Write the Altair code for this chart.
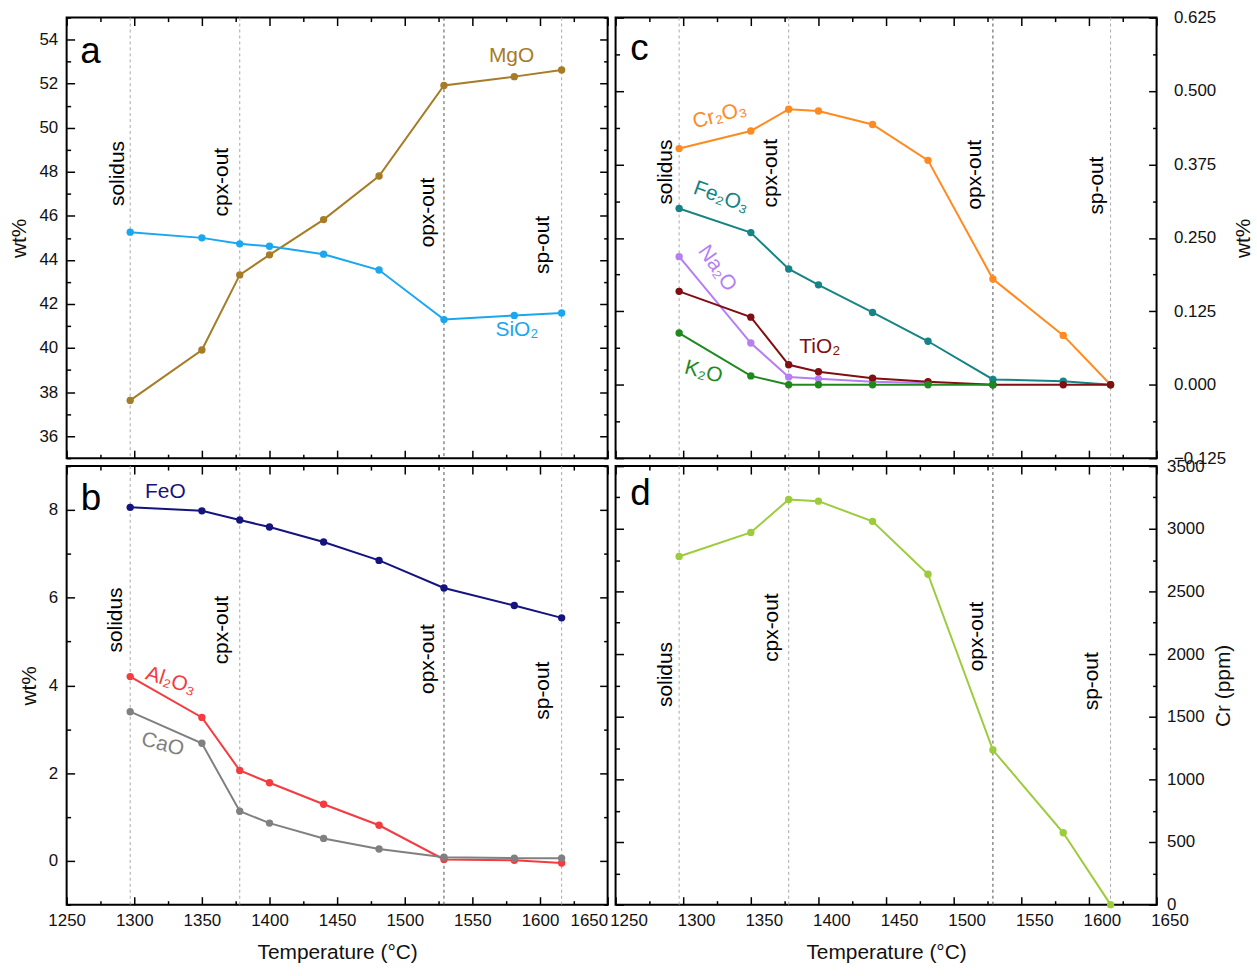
import altair as alt
import pandas as pd

FONT = "Liberation Sans"

# ---------------- data ----------------
T = [1297, 1350, 1378, 1400, 1440, 1481, 1529, 1581, 1616]
phase_T = [1297, 1378, 1529, 1616]
phase_names = ["solidus", "cpx-out", "opx-out", "sp-out"]
phase_line_colors = ["#a8a8a8", "#a8a8a8", "#505050", "#a8a8a8"]

# panel a (wt%)
MgO = [37.62, 39.91, 43.32, 44.23, 45.83, 47.81, 51.92, 52.32, 52.62]
SiO2 = [45.26, 45.00, 44.73, 44.62, 44.26, 43.54, 41.29, 41.48, 41.59]
# panel b (wt%)
FeO = [8.06, 7.98, 7.77, 7.61, 7.27, 6.85, 6.22, 5.82, 5.54]
Al2O3 = [4.20, 3.27, 2.06, 1.78, 1.29, 0.81, 0.03, 0.01, -0.05]
CaO = [3.40, 2.68, 1.13, 0.86, 0.51, 0.27, 0.08, 0.06, 0.06]
# panel c (wt%)
Cr2O3 = [0.402, 0.432, 0.469, 0.466, 0.443, 0.382, 0.180, 0.084, 0.000]
Fe2O3 = [0.300, 0.259, 0.197, 0.170, 0.123, 0.074, 0.009, 0.006, 0.000]
Na2O = [0.218, 0.071, 0.013, 0.010, 0.005, 0.003]
TiO2 = [0.159, 0.115, 0.034, 0.022, 0.011, 0.005, 0.000, 0.000, 0.000]
K2O = [0.088, 0.015, 0.000, 0.000, 0.000, 0.000, 0.000]
# panel d (ppm)
Cr_ppm = [2779, 2971, 3233, 3220, 3059, 2637, 1234, 574, 0]

colors = {
    "MgO": "#A67C26", "SiO₂": "#1AA7F0",
    "FeO": "#14137F", "Al₂O₃": "#F53A40", "CaO": "#808080",
    "Cr₂O₃": "#FF8A1F", "Fe₂O₃": "#168484", "Na₂O": "#B57EF5",
    "TiO₂": "#800E12", "K₂O": "#1E8A1E", "Cr": "#9CCB3C",
}

# label positions (data units): phase labels per panel
phase_lab_a = {"T": [1288, 1365, 1517, 1602], "v": [47.92, 47.53, 46.15, 44.68]}
phase_lab_b = {"T": [1286.5, 1364.7, 1517, 1602], "v": [5.49, 5.26, 4.60, 3.88]}
phase_lab_c = {"T": [1287.5, 1364.7, 1516, 1606], "v": [0.362, 0.360, 0.3575, 0.339]}
phase_lab_d = {"T": [1287.5, 1365.4, 1517, 1602.5], "v": [1837, 2211, 2140, 1783]}

# series labels: name, T, value, angle
ser_lab_a = [("MgO", 1579, 53.24, 0), ("SiO₂", 1583, 40.8, 0)]
ser_lab_b = [("FeO", 1323, 8.41, 0), ("Al₂O₃", 1327, 4.10, 18), ("CaO", 1321, 2.65, 15)]
ser_lab_c = [("Cr₂O₃", 1327, 0.458, 345), ("Fe₂O₃", 1328, 0.319, 20),
             ("Na₂O", 1325, 0.198, 55), ("TiO₂", 1401, 0.0637, 0), ("K₂O", 1315, 0.0212, 15)]

letters = {"a": (1267.6, 52.94), "b": (1268, 8.0), "c": (1267.6, 0.553), "d": (1268.4, 3187)}

x_major = list(range(1250, 1651, 50))
x_minor = list(range(1275, 1650, 50))


def long_df(series):
    rows = []
    for name, vals in series:
        for t, v in zip(T, vals):
            rows.append({"series": name, "T": t, "v": v, "col": colors[name]})
    return pd.DataFrame(rows)


def make_panel(letter, series, ydom, y_major, y_minor, yside, ytitle, yfmt,
               xlabels, phase_lab, ser_lab, height, ylabpad, ytitlepad,
               xlab_offset=0, right_align_last=False):
    xs = alt.Scale(domain=[1250, 1650], nice=False, zero=False)
    ys = alt.Scale(domain=ydom, nice=False, zero=False)
    opp = {"left": "right", "right": "left"}
    dummy = pd.DataFrame({"ax": [1250, 1650], "ay": ydom})

    def axis_layer(xa, ya):
        return alt.Chart(dummy).mark_point(opacity=0).encode(
            x=alt.X("ax:Q", scale=xs, axis=xa),
            y=alt.Y("ay:Q", scale=ys, axis=ya),
        )

    common = dict(domain=False, grid=False, tickColor="black", tickWidth=1.5)
    if xlabels:
        extra = {}
        if right_align_last:
            extra["labelAlign"] = alt.condition("datum.value == 1650", alt.value("right"), alt.value("center"))
        if xlab_offset:
            extra["labelOffset"] = xlab_offset
        xa1 = alt.Axis(orient="bottom", values=x_major, tickSize=8, offset=-8, labels=True,
                       labelPadding=8, labelFlush=False, labelOverlap=False, format="d",
                       title="Temperature (°C)", titlePadding=13, **extra, **common)
    else:
        xa1 = alt.Axis(orient="bottom", values=x_major, tickSize=8, offset=-8, labels=False,
                       title=None, **common)
    ya1 = alt.Axis(orient=yside, values=y_major, tickSize=8, offset=-8, labels=True,
                   labelPadding=ylabpad, labelFlush=False, labelOverlap=False,
                   format=yfmt, title=ytitle, titlePadding=ytitlepad,
                   titleAngle=270, titleBaseline="bottom" if yside == "left" else "top", **common)
    l1 = axis_layer(xa1, ya1)
    l2 = axis_layer(
        alt.Axis(orient="top", values=x_major, tickSize=8, offset=-8, labels=False, title=None, **common),
        alt.Axis(orient=opp[yside], values=y_major, tickSize=8, offset=-8, labels=False, title=None, **common),
    )
    l3 = axis_layer(
        alt.Axis(orient="bottom", values=x_minor, tickSize=4, offset=-4, labels=False, title=None, **common),
        alt.Axis(orient=yside, values=y_minor, tickSize=4, offset=-4, labels=False, title=None, **common),
    )
    l4 = axis_layer(
        alt.Axis(orient="top", values=x_minor, tickSize=4, offset=-4, labels=False, title=None, **common),
        alt.Axis(orient=opp[yside], values=y_minor, tickSize=4, offset=-4, labels=False, title=None, **common),
    )

    phase_df = pd.DataFrame({"T": phase_T, "lc": phase_line_colors})
    rules = alt.Chart(phase_df).mark_rule(strokeDash=[3, 3], strokeWidth=1).encode(
        x=alt.X("T:Q", scale=xs, axis=None),
        color=alt.Color("lc:N", scale=None, legend=None),
    )

    plab_df = pd.DataFrame({"T": phase_lab["T"], "v": phase_lab["v"], "name": phase_names})
    plabs = alt.Chart(plab_df).mark_text(angle=270, font=FONT, fontSize=21, color="black",
                                         align="center", baseline="middle").encode(
        x=alt.X("T:Q", scale=xs, axis=None),
        y=alt.Y("v:Q", scale=ys, axis=None),
        text="name:N",
    )

    df = long_df(series)
    lines = alt.Chart(df).mark_line(strokeWidth=2).encode(
        x=alt.X("T:Q", scale=xs, axis=None),
        y=alt.Y("v:Q", scale=ys, axis=None),
        color=alt.Color("col:N", scale=None, legend=None),
        detail="series:N",
    )
    pts = alt.Chart(df).mark_circle(size=55, opacity=1).encode(
        x=alt.X("T:Q", scale=xs, axis=None),
        y=alt.Y("v:Q", scale=ys, axis=None),
        color=alt.Color("col:N", scale=None, legend=None),
    )

    layers = [l1, l2, l3, l4, rules, plabs, lines, pts]
    for name, t, v, ang in ser_lab:
        layers.append(
            alt.Chart(pd.DataFrame({"T": [t], "v": [v], "name": [name]})).mark_text(
                angle=ang, font=FONT, fontSize=21, color=colors[name],
                align="center", baseline="middle").encode(
                x=alt.X("T:Q", scale=xs, axis=None),
                y=alt.Y("v:Q", scale=ys, axis=None),
                text="name:N",
            )
        )
    lt, lv = letters[letter]
    layers.append(
        alt.Chart(pd.DataFrame({"T": [lt], "v": [lv], "name": [letter]})).mark_text(
            font=FONT, fontSize=37, color="black", align="center", baseline="alphabetic").encode(
            x=alt.X("T:Q", scale=xs, axis=None),
            y=alt.Y("v:Q", scale=ys, axis=None),
            text="name:N",
        )
    )
    return alt.layer(*layers).resolve_axis(x="independent", y="independent").properties(
        width=544, height=height)


pa = make_panel("a", [("MgO", MgO), ("SiO₂", SiO2)], [35, 55],
                list(range(36, 55, 2)), list(range(35, 56, 2)), "left", "wt%", "d",
                False, phase_lab_a, ser_lab_a, 443, 9, 9)
pb = make_panel("b", [("FeO", FeO), ("Al₂O₃", Al2O3), ("CaO", CaO)], [-1, 9],
                [0, 2, 4, 6, 8], [-1, 1, 3, 5, 7, 9], "left", "wt%", "d",
                True, phase_lab_b, ser_lab_b, 441, 9, 9, right_align_last=True)
c_series = [("Cr₂O₃", Cr2O3), ("Fe₂O₃", Fe2O3), ("Na₂O", Na2O), ("TiO₂", TiO2), ("K₂O", K2O)]
pc = make_panel("c", c_series, [-0.125, 0.625],
                [-0.125, 0.0, 0.125, 0.25, 0.375, 0.5, 0.625],
                [-0.0625, 0.0625, 0.1875, 0.3125, 0.4375, 0.5625], "right", "wt%", ".3f",
                False, phase_lab_c, ser_lab_c, 443, 17, 7)
pd_ = make_panel("d", [("Cr", Cr_ppm)], [0, 3500],
                 list(range(0, 3501, 500)), list(range(250, 3500, 500)), "right", "Cr (ppm)", "d",
                 True, phase_lab_d, [], 441, 10, 9, xlab_offset=13)

chart = alt.concat(pa, pc, pb, pd_, columns=2, spacing=8, bounds="flush").properties(
    padding={"left": 8, "top": 5, "right": 2, "bottom": 2}, background="white"
).configure_view(stroke="black", strokeWidth=2).configure_axis(
    labelFont=FONT, titleFont=FONT, labelFontSize=17, titleFontSize=21,
    titleFontWeight="normal", labelColor="#111111", titleColor="#111111",
)

chart.save("out.html", embed_options={"renderer": "svg", "actions": False})
